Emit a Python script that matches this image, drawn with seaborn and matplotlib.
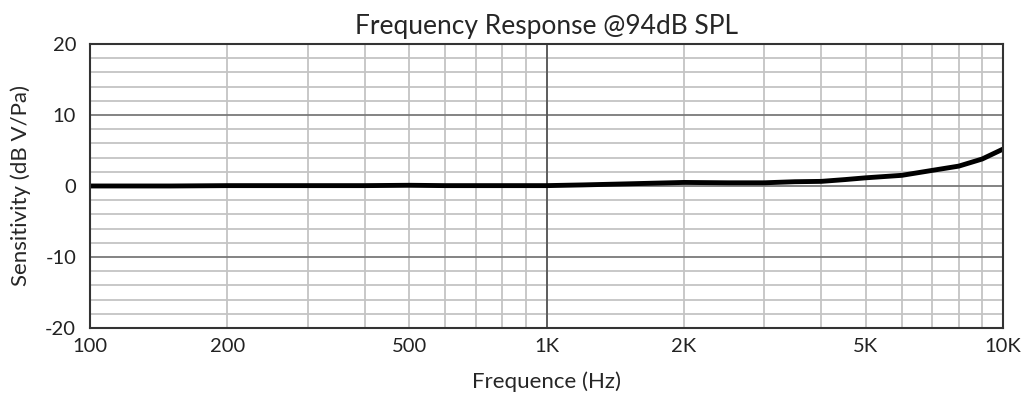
import numpy as np
import pandas as pd
import matplotlib
matplotlib.use("Agg")
import matplotlib.pyplot as plt
import seaborn as sns
from matplotlib.ticker import FixedLocator, FixedFormatter, NullFormatter

# curve (Hz, dB V/Pa)
freq = [100, 150, 200, 300, 400, 500, 600, 700, 800, 900, 1000, 1200, 1500,
        2000, 2500, 3000, 3500, 4000, 4500, 5000, 6000, 7000, 8000, 9000, 10000]
sens = [0.0, 0.0, 0.05, 0.05, 0.05, 0.1, 0.05, 0.05, 0.05, 0.05, 0.05, 0.15, 0.3,
        0.5, 0.45, 0.45, 0.6, 0.65, 0.9, 1.15, 1.5, 2.2, 2.8, 3.8, 5.2]

xlabels = ["100", "200", "500", "1K", "2K", "5K", "10K"]
xlabel_pos = [100, 200, 500, 1000, 2000, 5000, 10000]
xgrid_minor = [300, 400, 600, 700, 800, 900, 3000, 4000, 6000, 7000, 8000, 9000]

df = pd.DataFrame({"freq": freq, "sens": sens})

sns.set_style("white")
plt.rcParams["font.family"] = ["Lato", "DejaVu Sans"]
plt.rcParams["axes.unicode_minus"] = False

fig = plt.figure(figsize=(10.23, 3.98), dpi=100)
ax = fig.add_axes([0.088, 0.176, 0.8925, 0.7134])

sns.lineplot(data=df, x="freq", y="sens", color="black", linewidth=3.5, ax=ax)

ax.set_xscale("log")
ax.set_xlim(100, 10000)
ax.set_ylim(-20, 20)

ax.xaxis.set_major_locator(FixedLocator(xlabel_pos))
ax.xaxis.set_major_formatter(FixedFormatter(xlabels))
ax.xaxis.set_minor_locator(FixedLocator(xgrid_minor))
ax.xaxis.set_minor_formatter(NullFormatter())
ax.set_yticks([-20, -10, 0, 10, 20])
ax.set_yticks(np.arange(-18, 20, 2), minor=True)

ax.grid(which="both", axis="x", color="#c4c4c4", linewidth=1.3)
ax.grid(which="minor", axis="y", color="#c4c4c4", linewidth=1.3)
ax.grid(which="major", axis="y", color="#7a7a7a", linewidth=1.3)
ax.axvline(1000, color="#555555", linewidth=1.3, zorder=1)
ax.set_axisbelow(True)

ax.tick_params(which="both", length=0, labelsize=14.5, colors="#222222")
ax.tick_params(axis="x", pad=7)
ax.tick_params(axis="y", pad=10)
for s in ax.spines.values():
    s.set_color("#333333")
    s.set_linewidth(1.5)

ax.set_title("Frequency Response @94dB SPL", fontsize=19, pad=7)
ax.set_xlabel("Frequence (Hz)", fontsize=16, labelpad=12)
ax.set_ylabel("Sensitivity (dB V/Pa)", fontsize=16, labelpad=10)

fig.savefig("out.png", dpi=100)
